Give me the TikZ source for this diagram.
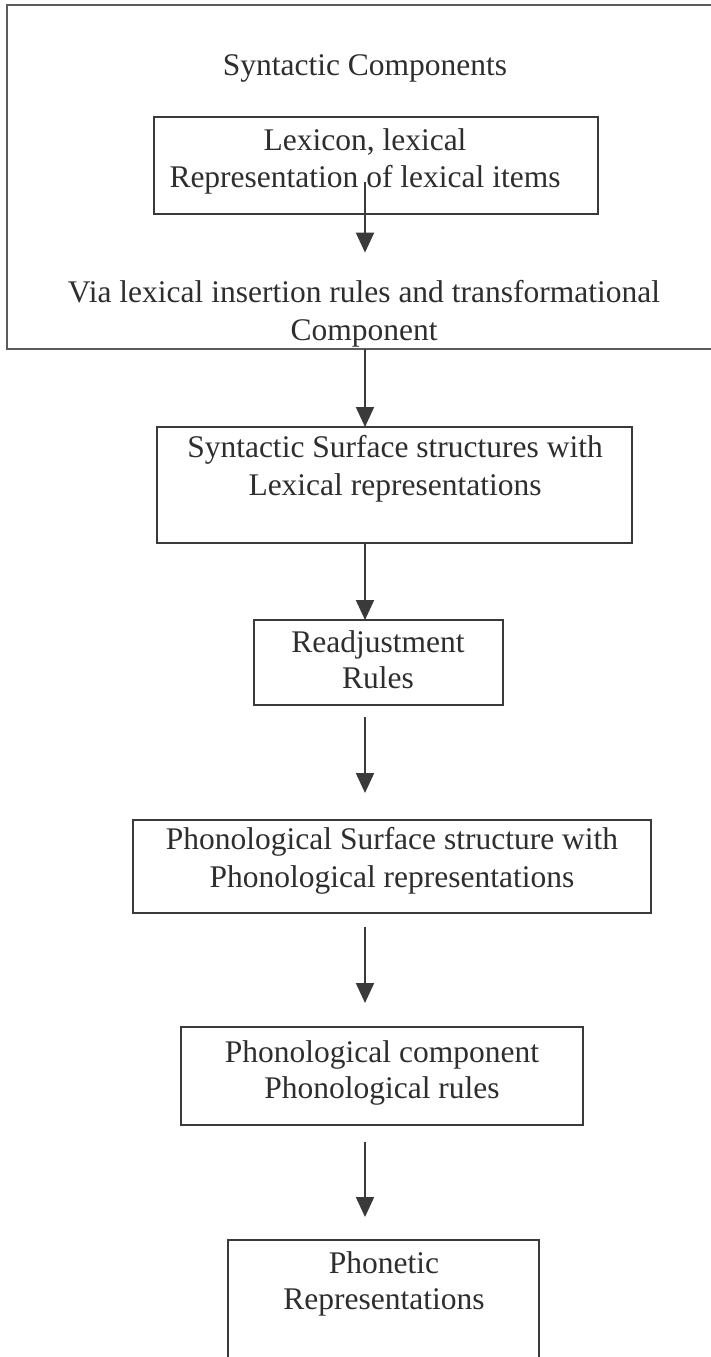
\documentclass[tikz,border=0pt]{standalone}
\usepackage{fontspec}
\setmainfont{Liberation Serif}
\usetikzlibrary{arrows.meta}
\definecolor{linegray}{HTML}{3A3A3A}
\definecolor{outergray}{HTML}{5C5C5C}
\definecolor{textgray}{HTML}{2E2E2E}
\begin{document}
\begin{tikzpicture}[x=1pt,y=-1pt,
  boxnode/.style={draw=linegray, line width=2pt, rectangle, inner sep=0pt, outer sep=0pt},
  txt/.style={anchor=base, inner sep=0pt, text=textgray, font=\fontsize{31.5}{37}\selectfont},
  flow/.style={line width=2pt, draw=linegray, fill=linegray, -{Triangle[width=18pt,length=20pt]}}]
% page
\useasboundingbox (0,0) rectangle (711,1357);
\fill[white] (0,0) rectangle (711,1357);
\clip (0,0) rectangle (711,1357);
\coordinate (axis) at (365,0);

% syntactic component frame
\node[boxnode, draw=outergray, line width=2.5pt, minimum width=730pt, minimum height=344pt] (outer) at (372,177) {};
\node[txt] (title) at (365,75) {Syntactic Components};

\node[boxnode, minimum width=444pt, minimum height=97pt] (lexbox) at (376,165.5) {};
\node[txt] (lex1) at (365,150) {Lexicon, lexical};
\node[txt] (lex2) at (365,187) {Representation of lexical items};

\node[txt] (via1) at (364,302) {Via lexical insertion rules and transformational};
\node[txt] (via2) at (364,340) {Component};

% surface structures
\node[boxnode, minimum width=475pt, minimum height=116pt] (ssbox) at (394.5,485) {};
\node[txt] (ss1) at (395,457) {Syntactic Surface structures with};
\node[txt] (ss2) at (395,495) {Lexical representations};

\node[boxnode, minimum width=249pt, minimum height=85pt] (rabox) at (378.5,662.5) {};
\node[txt] (ra1) at (378,652) {Readjustment};
\node[txt] (ra2) at (378,688) {Rules};

\node[boxnode, minimum width=518pt, minimum height=93pt] (psbox) at (392,866.5) {};
\node[txt] (ps1) at (392,849) {Phonological Surface structure with};
\node[txt] (ps2) at (392,887) {Phonological representations};

\node[boxnode, minimum width=402pt, minimum height=98pt] (pcbox) at (382,1076) {};
\node[txt] (pc1) at (382,1062) {Phonological component};
\node[txt] (pc2) at (382,1098) {Phonological rules};

\node[boxnode, minimum width=311pt, minimum height=160pt] (phbox) at (383.5,1320) {};
\node[txt] (ph1) at (384,1273) {Phonetic};
\node[txt] (ph2) at (384,1309) {Representations};

% derivation arrows
\draw[flow, shorten <=-32pt, shorten >=27pt] (lexbox.south -| axis) -- (via1.north -| axis);
\draw[flow] (outer.south -| axis) -- (ssbox.north -| axis);
\draw[flow] (ssbox.south -| axis) -- (rabox.north -| axis);
\draw[flow, shorten <=12pt, shorten >=27pt] (rabox.south -| axis) -- (psbox.north -| axis);
\draw[flow, shorten <=14pt, shorten >=24pt] (psbox.south -| axis) -- (pcbox.north -| axis);
\draw[flow, shorten <=17pt, shorten >=23pt] (pcbox.south -| axis) -- (phbox.north -| axis);
\end{tikzpicture}
\end{document}
